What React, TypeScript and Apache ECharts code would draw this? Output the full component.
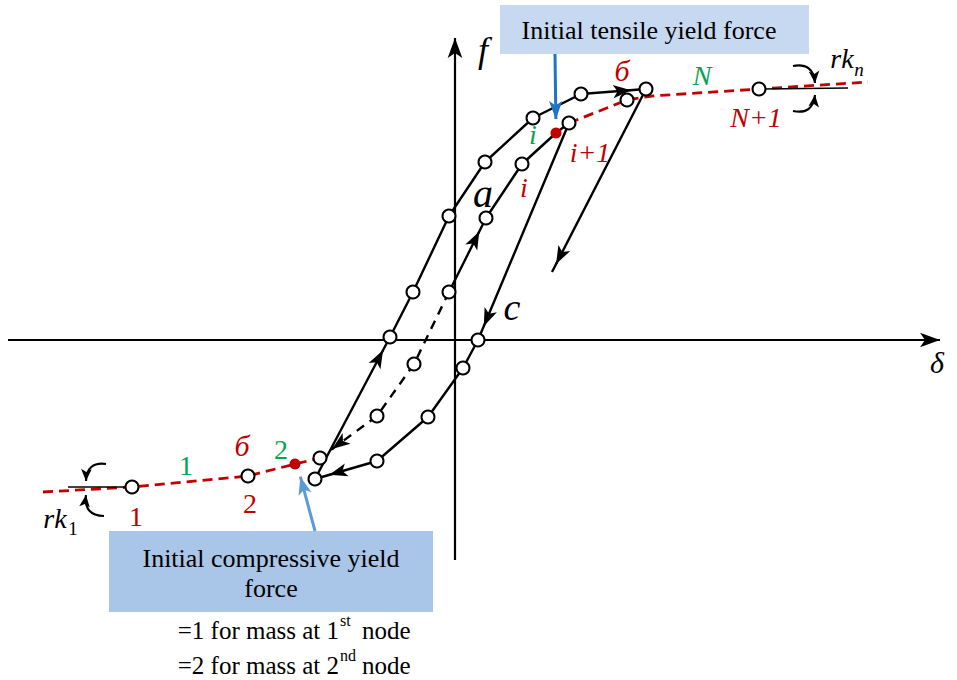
import React, { useEffect, useRef } from 'react';
import * as echarts from 'echarts';

type P = [number, number];

// Diagram coordinate ranges (origin at the axis crossing)
const xRange: P = [-455, 502];
const yRange: P = [-340, 340];

// Axes of the diagram (delta horizontal, f vertical)
const deltaAxis: P[] = [[-447, 0], [495, 0]];
const forceAxis: P[] = [[0, -220], [0, 312]];

// Backbone (red dashed) curves
const backboneLower: P[] = [[-412, -152], [-323, -147], [-207, -136], [-160, -124], [-135, -118]];
const backboneUpper: P[] = [[114, 217], [172, 240], [197, 244], [304, 251], [413, 258]];

// Hysteresis branches
const loadingBranch: P[] = [[-140, -139], [-65, 3], [-42, 48], [-6, 124], [30, 178], [78, 222], [126, 246], [191, 251]];
const unloadingBranch: P[] = [[191, 251], [97, 68]];
const reloadingBranch: P[] = [[-6, 48], [31, 122], [67, 176], [101, 207], [114, 217]];
const reversalBranch: P[] = [[114, 217], [23, 0], [8, -28], [-27, -77], [-78, -121], [-140, -139]];
const dashedBranch: P[] = [[-6, 48], [-41, -24], [-78, -76], [-135, -118]];

// Stiffness reference lines (rk1, rkn)
const stiffnessLines: P[][] = [[[-387, -147], [-323, -147]], [[304, 251], [393, 252]]];

// Nodes (open circles) and initial yield points (red dots)
const nodes: P[] = [
  [-323, -147], [-207, -136], [-135, -118], [-140, -139], [-78, -121], [-65, 3], [-42, 48], [-6, 124],
  [30, 178], [78, 222], [126, 246], [191, 251], [172, 240], [114, 217], [67, 176], [31, 122], [-6, 48],
  [-41, -24], [-78, -76], [23, 0], [8, -28], [-27, -77], [304, 251],
];
const yieldPoints: P[] = [[-160, -124], [101, 207]];

// Direction arrows along branches: [from, to, distance of tip before "to"]
const branchArrows: [P, P, number][] = [
  [[-140, -139], [-65, 3], 6],
  [[126, 246], [191, 251], 6],
  [[-6, 48], [31, 122], 6],
  [[114, 217], [23, 0], 6],
  [[-78, -121], [-140, -139], 6],
  [[191, 251], [97, 68], 0],
  [[-78, -76], [-135, -118], 6],
];

// Curved moment arrows [from, to, curveness]
const curvedArrows: [P, P, number][] = [
  [[338, 274], [360, 257], 0.55],
  [[338, 229], [360, 245], -0.55],
  [[-349, -124], [-369, -141], -0.55],
  [[-351, -176], [-369, -155], 0.55],
];

// Callout arrows [from, to, colour]
const calloutArrows: [P, P, string][] = [
  [[100, 286], [101, 212], '#1f74c6'],
  [[-140, -191], [-157, -128], '#5b9bd5'],
];

const RED = '#c00000';
const GREEN = '#00a651';
const SERIF = "'Liberation Serif', 'Times New Roman', serif";
const HEAD_LEN = 18;

function head(from: P, to: P, tipBack: number, len: number): P[] {
  const dx = to[0] - from[0];
  const dy = to[1] - from[1];
  const L = Math.hypot(dx, dy);
  const ux = dx / L;
  const uy = dy / L;
  const c: P = [to[0] - ux * (tipBack + len / 2), to[1] - uy * (tipBack + len / 2)];
  return [[c[0] - ux * 2, c[1] - uy * 2], c];
}

function txt(text: string, x: number, y: number, size: number, color = '#000', italic = true, align = 'center') {
  return {
    type: 'text',
    x,
    y,
    z: 20,
    style: {
      text,
      font: `${italic ? 'italic ' : ''}${size}px ${SERIF}`,
      fill: color,
      align,
      verticalAlign: 'middle',
    },
  };
}

export default function App() {
  const ref = useRef<HTMLDivElement>(null);

  useEffect(() => {
    if (!ref.current) return;
    const chart = echarts.init(ref.current, undefined, { renderer: 'svg' });

    const lineSeries = (data: P[], color: string, width: number, type: any, z = 3) => ({
      type: 'line',
      data,
      symbol: 'none',
      showSymbol: false,
      silent: true,
      z,
      lineStyle: { color, width, type, opacity: 1 },
    });

    const option: any = {
      animation: false,
      backgroundColor: '#ffffff',
      textStyle: { fontFamily: SERIF },
      grid: { left: 0, right: 0, top: 0, bottom: 0 },
      xAxis: { type: 'value', min: xRange[0], max: xRange[1], show: false },
      yAxis: { type: 'value', min: yRange[0], max: yRange[1], show: false },
      graphic: [
        { type: 'rect', z: 1, shape: { x: 500, y: 5, width: 309, height: 49 }, style: { fill: '#c6d9f1' } },
        { type: 'rect', z: 1, shape: { x: 109, y: 531, width: 324, height: 81 }, style: { fill: '#a9c5e8' } },
        txt('Initial tensile yield force', 649, 30, 26, '#000', false),
        txt('Initial compressive yield', 271, 558, 26, '#000', false),
        txt('force', 271, 588, 26, '#000', false),
        txt('=1 for mass at 1', 339, 630, 25, '#000', false, 'right'),
        txt('st', 340, 620, 16, '#000', false, 'left'),
        txt('node', 362, 630, 25, '#000', false, 'left'),
        txt('=2 for mass at 2', 339, 665, 25, '#000', false, 'right'),
        txt('nd', 340, 655, 16, '#000', false, 'left'),
        txt('node', 362, 665, 25, '#000', false, 'left'),
        txt('f', 483, 50, 36),
        txt('δ', 937, 362, 30),
        txt('a', 483, 193, 40),
        txt('c', 512, 307, 38),
        txt('i', 524, 187, 28, RED),
        txt('i', 533, 134, 28, GREEN),
        txt('i+1', 590, 152, 28, RED),
        txt('б', 622, 70, 30, RED),
        txt('N', 702, 75, 28, GREEN),
        txt('N+1', 756, 117, 28, RED),
        txt('rk', 842, 58, 28, '#000', true),
        txt('n', 859, 69, 19, '#000', true),
        txt('б', 242, 445, 30, RED),
        txt('2', 281, 449, 28, GREEN, false),
        txt('1', 186, 465, 28, GREEN, false),
        txt('2', 250, 503, 28, RED, false),
        txt('1', 136, 516, 28, RED, false),
        txt('rk', 55, 518, 28, '#000', true),
        txt('1', 73, 528, 19, '#000', false),
      ],
      series: [
        // axes
        {
          type: 'lines',
          coordinateSystem: 'cartesian2d',
          silent: true,
          z: 2,
          symbol: ['none', 'arrow'],
          symbolSize: [1, [11, 20]],
          lineStyle: { color: '#000', width: 2.2, opacity: 1 },
          data: [deltaAxis, forceAxis].map((a) => ({ coords: [a[0], head(a[0], a[1], 0, 20)[1]] })),
        },
        lineSeries(backboneLower, RED, 2.8, [10, 6], 3),
        lineSeries(backboneUpper, RED, 2.8, [10, 6], 3),
        lineSeries(loadingBranch, '#000', 2.4, 'solid', 4),
        lineSeries(unloadingBranch, '#000', 2.4, 'solid', 4),
        lineSeries(reloadingBranch, '#000', 2.4, 'solid', 4),
        lineSeries(reversalBranch, '#000', 2.4, 'solid', 4),
        lineSeries(dashedBranch, '#000', 2.4, [9, 7], 4),
        ...stiffnessLines.map((s) => lineSeries(s, '#000', 1.5, 'solid', 4)),
        // branch arrowheads
        {
          type: 'lines',
          coordinateSystem: 'cartesian2d',
          silent: true,
          z: 5,
          symbol: ['none', 'arrow'],
          symbolSize: [1, [10, HEAD_LEN]],
          lineStyle: { color: '#000', width: 2, opacity: 1 },
          data: branchArrows.map(([f, t, b]) => ({ coords: head(f, t, b, HEAD_LEN) })),
        },
        // curved moment arrows
        {
          type: 'lines',
          coordinateSystem: 'cartesian2d',
          silent: true,
          z: 5,
          symbol: ['none', 'arrow'],
          symbolSize: [1, [8, 12]],
          lineStyle: { color: '#000', width: 2.2, opacity: 1 },
          data: curvedArrows.map(([f, t, c]) => ({ coords: [f, t], lineStyle: { curveness: c } })),
        },
        // callout arrows
        {
          type: 'lines',
          coordinateSystem: 'cartesian2d',
          silent: true,
          z: 5,
          symbol: ['none', 'arrow'],
          symbolSize: [1, [10, 18]],
          lineStyle: { width: 3, opacity: 1 },
          data: calloutArrows.map(([f, t, col]) => ({
            coords: [f, head(f, t, 0, 18)[1]],
            lineStyle: { color: col },
          })),
        },
        {
          type: 'scatter',
          data: nodes,
          symbol: 'circle',
          symbolSize: 13,
          silent: true,
          z: 6,
          itemStyle: { color: '#ffffff', borderColor: '#000', borderWidth: 2, opacity: 1 },
        },
        {
          type: 'scatter',
          data: yieldPoints,
          symbol: 'circle',
          symbolSize: 11,
          silent: true,
          z: 7,
          itemStyle: { color: RED, opacity: 1 },
        },
      ],
    };

    chart.setOption(option);
    return () => chart.dispose();
  }, []);

  return (
    <div
      ref={ref}
      style={{ position: 'fixed', left: 0, top: 0, width: 957, height: 680, background: '#fff' }}
    />
  );
}
